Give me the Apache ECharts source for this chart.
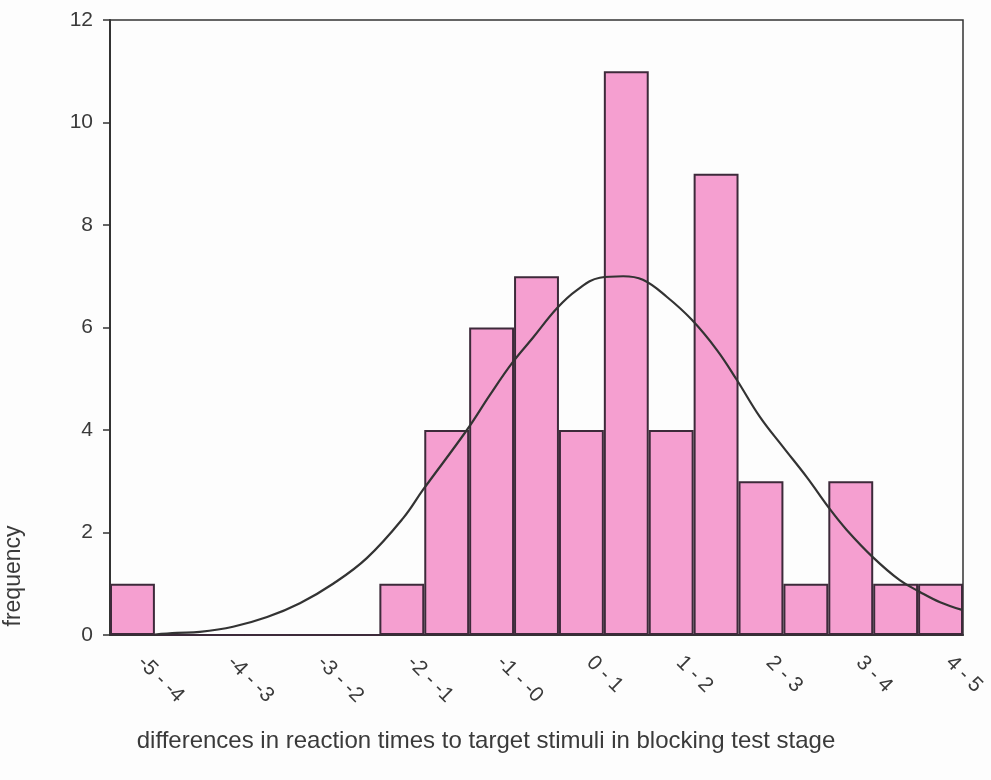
<!DOCTYPE html>
<html>
<head>
<meta charset="utf-8">
<script src="https://cdn.jsdelivr.net/npm/echarts@6/dist/echarts.min.js"></script>
<style>
html,body{margin:0;padding:0;background:#fdfdfd;}
#chart{width:991px;height:780px;}
</style>
</head>
<body>
<div id="chart"></div>
<script>
// 19 half-width bins; labels shown on every other bin
const binIndex = ['b0','b1','b2','b3','b4','b5','b6','b7','b8','b9','b10','b11','b12','b13','b14','b15','b16','b17','b18'];
const tickLabels = ['-5 - -4','-4 - -3','-3 - -2','-2 - -1','-1 - -0','0 - 1','1 - 2','2 - 3','3 - 4','4 - 5'];
const frequency = [1,0,0,0,0,0,1,4,6,7,4,11,4,9,3,1,3,1,1];
// normal curve: position in bin units (0..19), value
const curveX = [1.0,1.49,2.0,2.74,3.5,4.23,4.97,5.72,6.53,6.97,7.95,8.46,8.95,9.42,9.96,10.4,10.91,11.43,11.87,12.4,12.96,13.52,13.96,14.48,14.99,15.52,16.04,16.41,16.99,17.59,18.04,18.49,18.98];
const curveY = [0.01,0.04,0.06,0.16,0.35,0.62,1.0,1.5,2.28,2.83,4.0,4.68,5.3,5.8,6.38,6.73,6.97,7.0,6.93,6.6,6.15,5.56,4.98,4.25,3.67,3.08,2.45,2.05,1.52,1.07,0.84,0.64,0.49];
const yTicks = [0,2,4,6,8,10,12];

const chart = echarts.init(document.getElementById('chart'));
const txt = '#3a3a3a';
const font = 'Liberation Sans, Arial, sans-serif';
chart.setOption({
  backgroundColor: '#fdfdfd',
  animation: false,
  grid: {left:110, right:28, top:20, bottom:145, show:true, borderColor:'#333', borderWidth:1.5},
  xAxis: [{
    type:'category', data: binIndex, boundaryGap:true,
    axisLine:{lineStyle:{color:'#333', width:2}},
    axisTick:{alignWithLabel:true, interval:0, length:5, lineStyle:{color:'#333', width:1.5}},
    axisLabel:{interval:0, rotate:-45, margin:16, padding:[0,0,0,12], color:txt, fontSize:21, fontFamily:font,
      formatter:(v,i)=> i%2===0 ? tickLabels[i/2] : ''}
  },{
    type:'value', min:0, max:19, show:false
  }],
  yAxis: {
    type:'value', min:yTicks[0], max:yTicks[yTicks.length-1], interval:2,
    splitLine:{show:false},
    axisLine:{show:true, lineStyle:{color:'#333', width:2}},
    axisTick:{show:true, length:7, lineStyle:{color:'#333', width:1.5}},
    axisLabel:{margin:17, color:txt, fontSize:21, fontFamily:font}
  },
  series: [{
    type:'bar', data: frequency, barCategoryGap:'0%', xAxisIndex:0,
    itemStyle:{color:'#f59fd0', borderColor:'#3d2a3a', borderWidth:2}
  },{
    type:'line', xAxisIndex:1, smooth:0.4, showSymbol:false, z:5,
    data: curveX.map((x,i)=>[x, curveY[i]]),
    lineStyle:{color:'#333', width:2.2}
  }],
  graphic: [{
    type:'text', x:14, y:576, rotation:Math.PI/2,
    style:{text:'frequency', fill:txt, font:'23px Liberation Sans, Arial, sans-serif', align:'center', verticalAlign:'middle'}
  },{
    type:'text', x:486, y:741,
    style:{text:'differences in reaction times to target stimuli in blocking test stage', fill:txt, font:'24px Liberation Sans, Arial, sans-serif', align:'center', verticalAlign:'middle'}
  }]
});
</script>
</body>
</html>
